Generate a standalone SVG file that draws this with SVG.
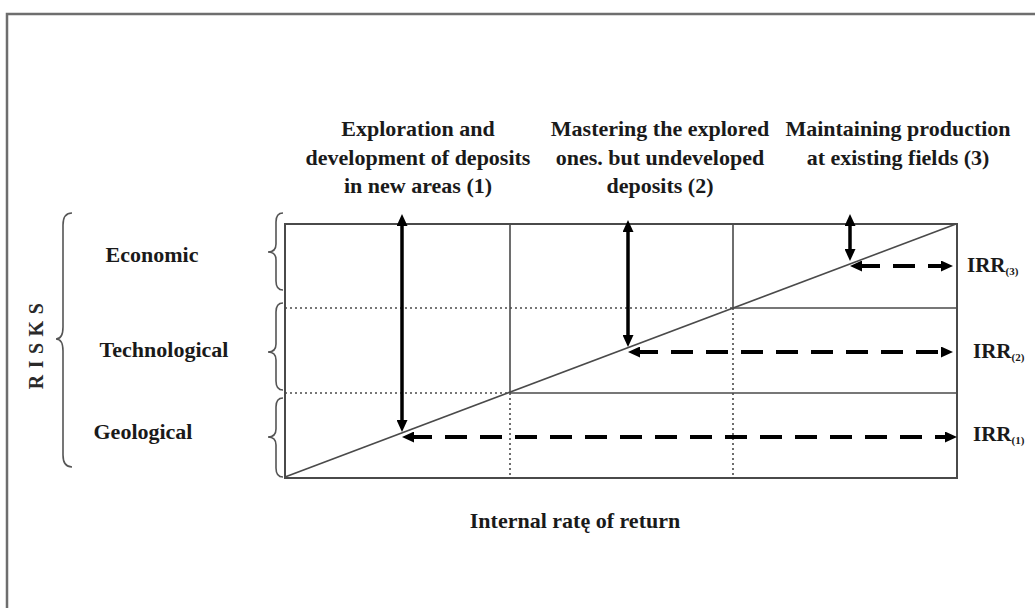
<svg xmlns="http://www.w3.org/2000/svg" width="1035" height="608" viewBox="0 0 1035 608">
<style>
  .txt { font-family: "Liberation Serif", "Times New Roman", serif; font-weight: bold; font-size: 22px; fill: #1a1a1a; }
  .mid { text-anchor: middle; }
  .frame { fill: none; stroke: #6e6e6e; stroke-width: 2.5; }
  .box { fill: none; stroke: #4a4a4a; stroke-width: 2; }
  .solid { fill: none; stroke: #4a4a4a; stroke-width: 1.6; }
  .dot { fill: none; stroke: #4a4a4a; stroke-width: 1.6; stroke-dasharray: 2 3; }
  .brace { fill: none; stroke: #555; stroke-width: 1.6; }
  .varrow { fill: none; stroke: #000; stroke-width: 3.5; marker-start: url(#ah); marker-end: url(#ah); }
  .harrow { fill: none; stroke: #000; stroke-width: 4; stroke-dasharray: 22 13; marker-start: url(#ah); marker-end: url(#ah); }
</style>
<defs>
  <marker id="ah" viewBox="0 0 12 11" refX="4" refY="5.5" markerWidth="12" markerHeight="11" markerUnits="userSpaceOnUse" orient="auto-start-reverse">
    <path d="M0,0 L12,5.5 L0,11 z" fill="#000"/>
  </marker>
</defs>
<rect width="1035" height="608" fill="#fff"/>
<path class="frame" d="M7,608 L7,14 L1035,14"/>

<g id="risks">
  <text class="txt" transform="translate(43,343) rotate(-90)" text-anchor="middle" style="font-size:20px;letter-spacing:6.5px;fill:#2a2a2a">RISKS</text>
  <path class="brace" d="M72,213 Q63,213 63,225 L63,327 Q63,339 56,339 Q63,339 63,351 L63,455 Q63,467 72,467"/>
</g>

<g id="economic">
  <text class="txt mid" x="152" y="262">Economic</text>
  <path class="brace" d="M283,213 Q276,213 276,222 L276,244 Q276,252 268,252 Q276,252 276,260 L276,281 Q276,290 283,290"/>
</g>
<g id="technological">
  <text class="txt mid" x="164" y="357">Technological</text>
  <path class="brace" d="M283,303 Q276,303 276,312 L276,344 Q276,352 268,352 Q276,352 276,360 L276,381 Q276,390 283,390"/>
</g>
<g id="geological">
  <text class="txt mid" x="143" y="439">Geological</text>
  <path class="brace" d="M283,398 Q276,398 276,407 L276,429 Q276,437 268,437 Q276,437 276,445 L276,468 Q276,477 283,477"/>
</g>

<g id="grid">
  <rect class="box" x="285" y="224" width="672" height="254"/>
  <line class="dot" x1="285" y1="308" x2="733" y2="308"/>
  <line class="solid" x1="733" y1="308" x2="957" y2="308"/>
  <line class="dot" x1="285" y1="393" x2="510" y2="393"/>
  <line class="solid" x1="510" y1="393" x2="957" y2="393"/>
  <line class="solid" x1="510" y1="224" x2="510" y2="393"/>
  <line class="dot" x1="510" y1="393" x2="510" y2="478"/>
  <line class="solid" x1="733" y1="224" x2="733" y2="308"/>
  <line class="dot" x1="733" y1="308" x2="733" y2="478"/>
  <line class="solid" x1="285" y1="477" x2="956" y2="224"/>
</g>

<g id="category1">
  <text class="txt mid" x="418" y="136">Exploration and</text>
  <text class="txt mid" x="418" y="164.5">development of deposits</text>
  <text class="txt mid" x="418" y="193">in new areas (1)</text>
</g>
<g id="category2">
  <text class="txt mid" x="660" y="136">Mastering the explored</text>
  <text class="txt mid" x="660" y="164.5">ones. but undeveloped</text>
  <text class="txt mid" x="660" y="193">deposits (2)</text>
</g>
<g id="category3">
  <text class="txt mid" x="898" y="136">Maintaining production</text>
  <text class="txt mid" x="898" y="164.5">at existing fields (3)</text>
</g>

<g id="connectors">
  <line class="varrow" x1="402" y1="222" x2="402" y2="424"/>
  <line class="varrow" x1="628" y1="228" x2="628" y2="339"/>
  <line class="varrow" x1="850" y1="222" x2="850" y2="253"/>
  <line class="harrow" x1="410" y1="437" x2="949" y2="437"/>
  <line class="harrow" x1="636" y1="352" x2="945" y2="352"/>
  <line class="harrow" x1="858" y1="266" x2="945" y2="266"/>
</g>

<g id="irr3"><text class="txt" x="967" y="272" style="font-size:21px">IRR<tspan style="font-size:11px" dy="3">(3)</tspan></text></g>
<g id="irr2"><text class="txt" x="973" y="358" style="font-size:21px">IRR<tspan style="font-size:11px" dy="3">(2)</tspan></text></g>
<g id="irr1"><text class="txt" x="973" y="441" style="font-size:21px">IRR<tspan style="font-size:11px" dy="3">(1)</tspan></text></g>

<g id="xaxis">
  <text class="txt mid" x="575" y="528">Internal ratę of return</text>
</g>
</svg>
